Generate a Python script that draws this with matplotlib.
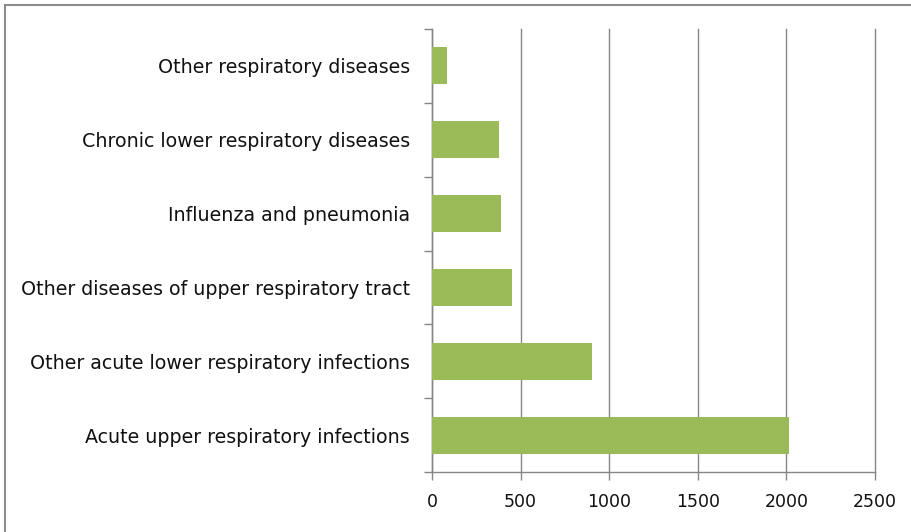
import matplotlib.pyplot as plt
from matplotlib.patches import Rectangle

# categories bottom to top
categories = ['Acute upper respiratory infections',
              'Other acute lower respiratory infections',
              'Other diseases of upper respiratory tract',
              'Influenza and pneumonia',
              'Chronic lower respiratory diseases',
              'Other respiratory diseases']
values = [2015, 903, 451, 391, 380, 82]
xticks = [0, 500, 1000, 1500, 2000, 2500]

W, H = 911, 532
fig = plt.figure(figsize=(W / 100, H / 100), dpi=100)
ax = fig.add_axes([432 / W, 1 - 472 / H, (875 - 432) / W, (472 - 29) / H])

grey = '#868686'
pos = list(range(len(categories)))
ax.barh(pos, values, height=0.5, color='#9BBB59', zorder=3)

ax.set_xlim(0, 2500)
ax.set_ylim(-0.5, len(categories) - 0.5)
ax.set_xticks(xticks)
ax.set_xticklabels([str(t) for t in xticks])
ax.grid(axis='x', color=grey, linewidth=1, zorder=0)
for gl in ax.get_xgridlines():
    gl.set_clip_on(False)

# category labels between the boundary ticks
ax.set_yticks(pos)
ax.set_yticklabels(categories)
ax.set_yticks([p - 0.5 for p in pos] + [len(categories) - 0.5], minor=True)
ax.tick_params(axis='y', which='major', length=0, pad=16, labelsize=13.7, labelcolor='#111111')
ax.tick_params(axis='y', which='minor', length=6, color=grey, width=1)
ax.tick_params(axis='x', length=6, color=grey, width=1, pad=9, labelsize=12.5, labelcolor='#111111')

for s in ['top', 'right']:
    ax.spines[s].set_visible(False)
for s in ['left', 'bottom']:
    ax.spines[s].set_color(grey)
    ax.spines[s].set_linewidth(1)

# chart frame, cropped at right and bottom
fig.patches.append(Rectangle((5 / W, -0.1), 1.2, 1 - 5 / H + 0.1, transform=fig.transFigure,
                             fill=False, edgecolor='#8c8c8c', linewidth=1.5))

fig.savefig('out.png', dpi=100)
